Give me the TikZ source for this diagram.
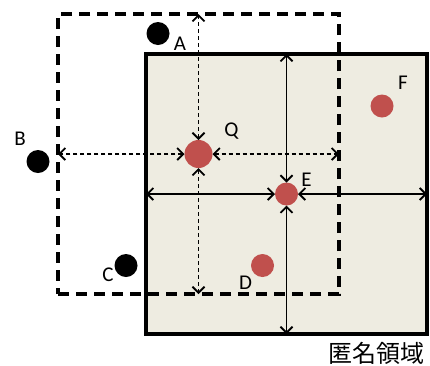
\documentclass[tikz,border=0pt]{standalone}
\usepackage{fontspec}
\setmainfont{Carlito}
\newfontfamily\jpfont{Noto Sans CJK JP}
\usetikzlibrary{arrows.meta}
\definecolor{tan}{HTML}{EEECE1}
\definecolor{dotred}{HTML}{C0504D}

\begin{document}
\begin{tikzpicture}[x=1pt, y=-1pt,
  every node/.style={font=\fontsize{21}{21}\selectfont},
  area/.style={minimum width=281pt, minimum height=280pt,
               inner sep=0pt, outer sep=0pt},
  spot/.style={circle, fill=#1, minimum size=23pt,
               inner sep=0pt, outer sep=0pt},
  link/.style={{Straight Barb[length=6pt,width=12pt]}-{Straight Barb[length=6pt,width=12pt]},
               line width=1.8pt},
  dlink/.style={link, dash pattern=on 4pt off 3pt},
]
\useasboundingbox (0,0) rectangle (430,365);

% ── Regions ──
\node[area, draw, fill=tan, line width=3.5pt] (anon) at (286.5,194) {};
\node[area, draw, line width=4pt, dash pattern=on 11pt off 7pt] (qarea) at (198.5,154) {};

% ── Points ──
\node[spot=dotred, minimum size=28pt] (Q) at (198.5,154) {};
\node[spot=dotred] (E) at (286.5,194) {};
\node[spot=dotred] (F) at (382,106) {};
\node[spot=dotred] (D) at (262.5,265.5) {};
\node[spot=black] (A) at (158,33.5) {};
\node[spot=black] (B) at (38,161.5) {};
\node[spot=black] (C) at (126,265.5) {};

% ── Labels ──
\node (labQ) at (231.5,131.5) {Q};
\node (labE) at (306.5,180) {E};
\node (labF) at (403,83) {F};
\node (labD) at (245.5,282.5) {D};
\node (labA) at (180,43.5) {A};
\node (labB) at (20,139) {B};
\node (labC) at (108,275) {C};
\node[font=\jpfont\fontsize{24}{24}\selectfont] (title) at (376,353) {匿名領域};

% ── Distances from Q ──
\draw[dlink] (Q) -- (Q |- qarea.north);
\draw[dlink] (Q) -- (Q |- qarea.south);
\draw[dlink] (Q) -- (Q -| qarea.west);
\draw[dlink] (Q) -- (Q -| qarea.east);

% ── Distances from E ──
\draw[link] (E) -- (E |- anon.north);
\draw[link] (E) -- (E |- anon.south);
\draw[link] (E) -- (E -| anon.west);
\draw[link] (E) -- (E -| anon.east);

\end{tikzpicture}
\end{document}
